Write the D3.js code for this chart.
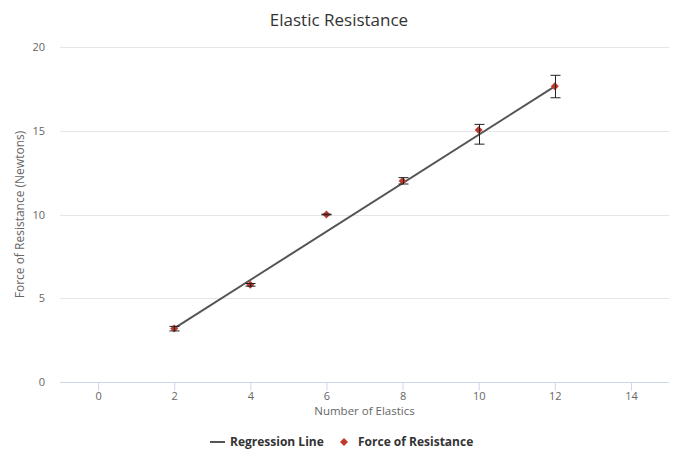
<!DOCTYPE html>
<html><head><meta charset="utf-8">
<script src="https://cdn.jsdelivr.net/npm/d3@7"></script>
<style>body{margin:0;background:#fff}svg{display:block;font-family:"Open Sans","Lucida Grande",sans-serif}</style>
</head><body><svg id="c" width="675" height="451"></svg>
<script>
const xValues = [2, 4, 6, 8, 10, 12];
const forceValues = [3.2, 5.8, 10.0, 12.0, 15.05, 17.65];
const errLow = [3.05, 5.72, 9.98, 11.82, 14.2, 16.97];
const errHigh = [3.32, 5.88, 10.02, 12.2, 15.38, 18.31];
const regressionX = [2, 12];
const regressionY = [3.2, 17.65];
const xTicks = [0, 2, 4, 6, 8, 10, 12, 14];
const yTicks = [0, 5, 10, 15, 20];

const svg = d3.select("#c");
const L = 60, R = 669, T = 47, B = 382;
const x = d3.scaleLinear().domain([-1, 15]).range([L, R]);
const y = d3.scaleLinear().domain([0, 20]).range([B, T]);

// gridlines
svg.append("g").selectAll("line").data(yTicks.filter(d => d > 0)).join("line")
  .attr("x1", L).attr("x2", R).attr("y1", d => Math.round(y(d)) + 0.5).attr("y2", d => Math.round(y(d)) + 0.5)
  .attr("stroke", "#e6e6e6").attr("stroke-width", 1);

// y tick labels
svg.append("g").selectAll("text").data(yTicks).join("text")
  .attr("x", 45).attr("y", d => y(d) + 4).attr("text-anchor", "end")
  .attr("font-size", 11).attr("fill", "#666").text(d => d);

// x axis
const xa = svg.append("g").attr("transform", `translate(0,${B + 0.5})`)
  .call(d3.axisBottom(x).tickValues(xTicks).tickSize(8).tickSizeOuter(0).tickPadding(2));
xa.select(".domain").attr("stroke", "#ccd6eb").attr("d", `M${L},0H${R}`);
xa.selectAll(".tick line").attr("stroke", "#ccd6eb");
xa.selectAll(".tick text").attr("font-size", 11).attr("fill", "#666")
  .attr("font-family", "'Open Sans','Lucida Grande',sans-serif").attr("dy", null).attr("y", 17.5);

// axis titles
svg.append("text").attr("x", (L + R) / 2).attr("y", 415).attr("text-anchor", "middle")
  .attr("font-size", 11.5).attr("fill", "#666").text("Number of Elastics");
svg.append("text").attr("transform", `translate(24,${(T + B) / 2}) rotate(-90)`).attr("text-anchor", "middle")
  .attr("font-size", 12).attr("fill", "#666").text("Force of Resistance (Newtons)");

// title
svg.append("text").attr("x", 339).attr("y", 26).attr("text-anchor", "middle")
  .attr("font-size", 17).attr("fill", "#333").text("Elastic Resistance");

// regression line
const lineData = regressionX.map((d, i) => [d, regressionY[i]]);
svg.append("path").datum(lineData)
  .attr("d", d3.line().x(d => x(d[0])).y(d => y(d[1])))
  .attr("fill", "none").attr("stroke", "#555").attr("stroke-width", 2);

// markers
const pts = xValues.map((d, i) => ({x: d, y: forceValues[i], lo: errLow[i], hi: errHigh[i]}));
svg.append("g").selectAll("path").data(pts).join("path")
  .attr("transform", d => `translate(${x(d.x)},${y(d.y)})`)
  .attr("d", "M0,-4L4,0L0,4L-4,0Z").attr("fill", "#c0392b");

// error bars
const eb = svg.append("g").attr("stroke", "#222").attr("stroke-width", 1);
pts.forEach(d => {
  const cx = Math.round(x(d.x)) + 0.5;
  eb.append("line").attr("x1", cx).attr("x2", cx).attr("y1", y(d.hi)).attr("y2", y(d.lo));
  eb.append("line").attr("x1", cx - 5).attr("x2", cx + 5).attr("y1", y(d.hi)).attr("y2", y(d.hi));
  eb.append("line").attr("x1", cx - 5).attr("x2", cx + 5).attr("y1", y(d.lo)).attr("y2", y(d.lo));
});

// legend
const lg = svg.append("g");
lg.append("line").attr("x1", 210).attr("x2", 225).attr("y1", 442).attr("y2", 442).attr("stroke", "#555").attr("stroke-width", 2);
lg.append("text").attr("x", 230).attr("y", 446).attr("font-size", 12).attr("font-weight", "bold").attr("fill", "#333").text("Regression Line");
lg.append("path").attr("transform", "translate(344,442)").attr("d", "M0,-4L4,0L0,4L-4,0Z").attr("fill", "#c0392b");
lg.append("text").attr("x", 358).attr("y", 446).attr("font-size", 12).attr("font-weight", "bold").attr("fill", "#333").text("Force of Resistance");
</script></body></html>
